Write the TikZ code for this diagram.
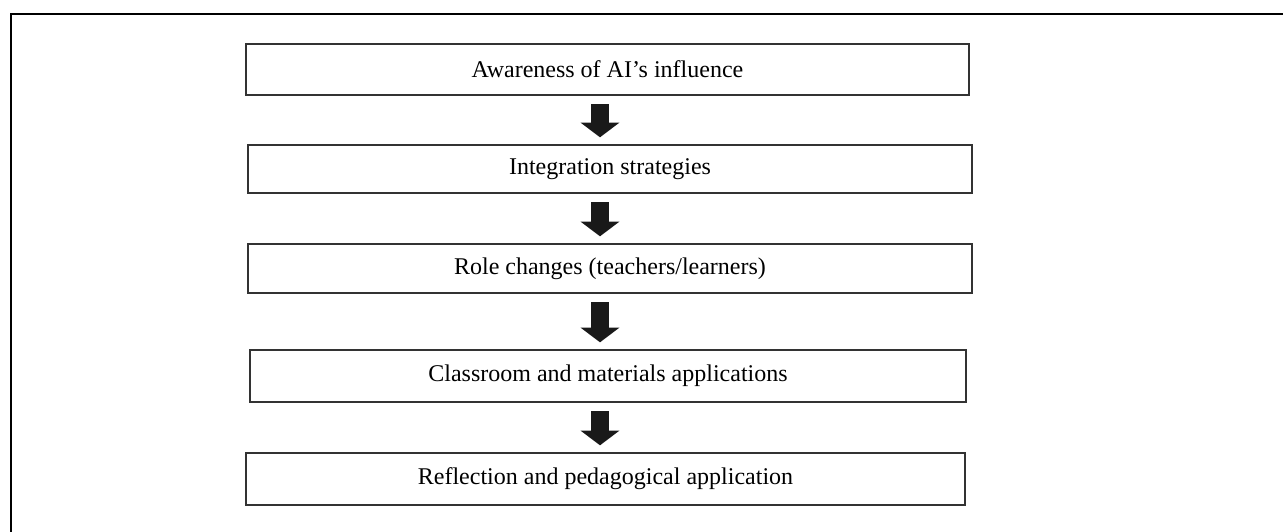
\documentclass[tikz,border=0pt]{standalone}
\usepackage{fontspec}
\setmainfont{Liberation Serif}
\usetikzlibrary{arrows.meta}

\begin{document}
\begin{tikzpicture}[x=0.75pt,y=-0.75pt,
  stage/.style={draw=black!80,line width=1.5pt,inner sep=0pt,font=\fontsize{18}{20}\selectfont},
  flow/.style={black!90,line width=13.5pt,-{Triangle[width=28.5pt,length=11pt]}}]
\useasboundingbox (0,0) rectangle (1283,532);
\draw[line width=1.5pt](11,532)--(11,14)--(1283,14);
\coordinate (axis) at (600,0);
\node[stage,minimum width=542.25pt,minimum height=38.25pt](aware) at (607.5,69.5){Awareness of AI’s influence};
\node[stage,minimum width=543pt,minimum height=36pt](integ) at (610,169){Integration strategies};
\node[stage,minimum width=543pt,minimum height=36.75pt](roles) at (610,268.5){Role changes (teachers/learners)};
\node[stage,minimum width=537pt,minimum height=39pt](appl) at (608,376){Classroom and materials applications};
\node[stage,minimum width=539.25pt,minimum height=39pt](refl) at (605.5,479){Reflection and pedagogical application};
\draw[flow]([yshift=-6pt]aware.south -| axis)--([yshift=5pt]integ.north -| axis);
\draw[flow]([yshift=-6pt]integ.south -| axis)--([yshift=5pt]roles.north -| axis);
\draw[flow]([yshift=-6pt]roles.south -| axis)--([yshift=5pt]appl.north -| axis);
\draw[flow]([yshift=-6pt]appl.south -| axis)--([yshift=5pt]refl.north -| axis);
\end{tikzpicture}
\end{document}
